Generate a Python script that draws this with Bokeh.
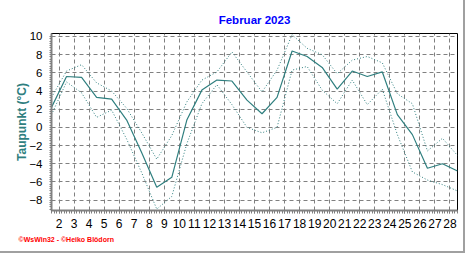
from bokeh.plotting import figure
from bokeh.models import Range1d, FixedTicker, Title, ColumnDataSource
from bokeh.embed import file_html
from bokeh.resources import INLINE

days = list(range(1, 29))
mean_dp = [2.2, 5.6, 5.5, 3.3, 3.1, 0.8, -2.8, -6.6, -5.5, 0.8, 4.1, 5.2, 5.1, 3.0,
           1.5, 3.3, 8.4, 7.8, 6.6, 4.2, 6.2, 5.6, 6.1, 1.4, -0.8, -4.5, -4.0, -4.8]
max_dp = [3.3, 6.2, 6.9, 4.9, 4.0, 2.1, -0.6, -3.5, -0.9, 2.8, 5.2, 6.1, 8.3, 6.1,
          3.9, 6.3, 10.2, 8.7, 8.0, 5.9, 7.4, 7.8, 7.1, 3.7, 2.6, -2.6, -1.2, -3.1]
min_dp = [1.4, 5.0, 3.8, 1.1, 1.9, -1.3, -5.0, -9.0, -7.6, -1.8, 2.6, 4.7, 2.5, 0.0,
          -0.6, 0.0, 6.3, 6.7, 4.1, 2.6, 5.2, 2.5, 4.2, -0.8, -4.9, -5.8, -6.3, -7.0]
x_labels = [str(d) for d in range(2, 29)]
y_ticks = list(range(-8, 11, 2))

teal = "#2f7f7f"
font = "Liberation Sans"

src = ColumnDataSource(dict(day=days, mean=mean_dp, mx=max_dp, mn=min_dp))

p = figure(width=465, height=253, x_range=Range1d(1, 28), y_range=Range1d(-9.15, 10.33),
           output_backend="svg", toolbar_location=None,
           min_border_left=51, min_border_right=8, min_border_top=33, min_border_bottom=43)
p.styles = {"border-right": "2px solid #a0a0a0", "border-bottom": "2px solid #a0a0a0"}
p.background_fill_color = "white"
p.border_fill_color = "white"
p.outline_line_color = "black"
p.outline_line_width = 1

# title
p.title.text = "Februar 2023"
p.title.align = "center"
p.title.offset = -17
p.title.text_color = "#0000ff"
p.title.text_font = font
p.title.text_font_size = "11.5px"
p.title.text_font_style = "bold"
p.title.standoff = 15

# x axis
x_tick_pos = [k - 0.5 for k in range(2, 29)]
minor_x = [1 + i / 6 for i in range(0, 27 * 6 + 1)]
p.xaxis.ticker = FixedTicker(ticks=x_tick_pos, minor_ticks=minor_x)
p.xaxis.major_label_overrides = {pos: lab for pos, lab in zip(x_tick_pos, x_labels)}
p.xaxis.axis_line_color = "#808080"
p.xaxis.axis_line_width = 2
p.xaxis.major_tick_out = 3
p.xaxis.major_tick_in = 0
p.xaxis.minor_tick_out = 3
p.xaxis.minor_tick_in = 0
p.xaxis.major_tick_line_color = "#808080"
p.xaxis.minor_tick_line_color = "#808080"
p.xaxis.major_label_standoff = 5
p.xaxis.major_label_text_font = font
p.xaxis.major_label_text_font_size = "12px"
p.xaxis.major_label_text_color = "black"

# y axis
minor_y = [v / 4 for v in range(-36, 41)]
p.yaxis.ticker = FixedTicker(ticks=y_ticks, minor_ticks=minor_y)
p.yaxis.axis_line_color = "#808080"
p.yaxis.axis_line_width = 2
p.yaxis.major_tick_out = 0
p.yaxis.major_tick_in = 0
p.yaxis.minor_tick_out = 2
p.yaxis.minor_tick_in = 0
p.yaxis.minor_tick_line_color = "#808080"
p.yaxis.major_label_standoff = 7
p.yaxis.major_label_text_font = font
p.yaxis.major_label_text_font_size = "11.5px"
p.yaxis.major_label_text_color = "black"

# y axis title as a left-side title, stacked just outside the tick labels
p.add_layout(Title(text="Taupunkt (°C)", align="center", text_color=teal,
                   text_font=font, text_font_size="12px", text_font_style="bold",
                   standoff=-5), "left")

# grids
p.xgrid.ticker = FixedTicker(ticks=x_tick_pos)
p.ygrid.ticker = FixedTicker(ticks=y_ticks)
for g in (p.xgrid, p.ygrid):
    g.grid_line_color = "#808080"
    g.grid_line_dash = "4 3"
    g.grid_line_width = 1

# data lines
p.line("day", "mx", source=src, line_color=teal, line_width=1, line_dash="1 2")
p.line("day", "mn", source=src, line_color=teal, line_width=1, line_dash="1 2")
p.line("day", "mean", source=src, line_color=teal, line_width=1.2)

# footer
p.add_layout(Title(text="©WsWin32 - ©Heiko Blödorn", align="left", offset=-33,
                   text_color="#ff0000", text_font=font, text_font_size="7px",
                   text_font_style="bold", standoff=6), "below")

open("out.html", "w").write(file_html(p, INLINE))
